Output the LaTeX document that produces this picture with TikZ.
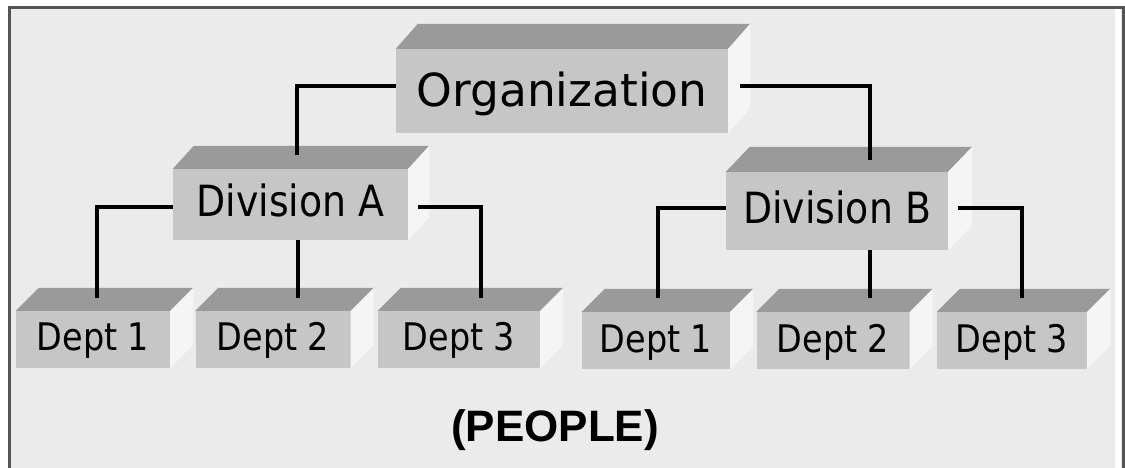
\documentclass[tikz,border=0pt]{standalone}
\usepackage{fontspec}
\newfontfamily\boxfont[FakeStretch=0.88]{DejaVu Sans}
\newfontfamily\orgfont{DejaVu Sans}
\newfontfamily\peoplefont{Liberation Sans}
\definecolor{bgc}{HTML}{EBEBEB}
\definecolor{frontc}{HTML}{C6C6C6}
\definecolor{topc}{HTML}{9A9A9A}
\definecolor{sidec}{HTML}{F5F5F5}
\definecolor{framec}{HTML}{555555}
\newcommand\boxfaces[3]{%
  \fill[topc] (#1.north west) -- ++(#2,-#3) -- ([shift={(#2,-#3)}]#1.north east) -- (#1.north east) -- cycle;
  \fill[sidec] (#1.north east) -- ++(#2,-#3) -- ([shift={(#2,-#3)}]#1.south east) -- (#1.south east) -- cycle;
}
\newcommand\basetext[2]{\raisebox{-#1pt}[0pt][0pt]{#2}}
\begin{document}
\begin{tikzpicture}[x=1pt,y=-1pt,
  boxfront/.style={fill=frontc, inner sep=0pt, text=black},
  orgbox/.style={boxfront, minimum width=332pt, minimum height=84pt, font=\orgfont\fontsize{45.5}{50}\selectfont},
  divbox/.style={boxfront, font=\boxfont\fontsize{43}{48}\selectfont},
  deptbox/.style={boxfront, minimum height=57pt, font=\boxfont\fontsize{38}{42}\selectfont},
  conn/.style={draw=black, line width=3.6pt},
  label/.style={font=\peoplefont\bfseries\fontsize{44}{48}\selectfont, text=black}
]
\useasboundingbox (0,0) rectangle (1125,468);
\fill[white] (0,0) rectangle (1125,468);
\fill[bgc] (8,7) rectangle (1122,468);
\fill[white] (1115,9) rectangle (1121,468);
\draw[framec, line width=3pt] (9.5,468) -- (9.5,7.5) -- (1123.5,7.5) -- (1123.5,468);

% boxes
\node[orgbox] (org) at (562,91) {\basetext{15.5}{Organization}};
\boxfaces{org}{22}{25}
\node[divbox, minimum width=235pt, minimum height=71pt] (divA) at (290.5,204.5) {\basetext{12.2}{Division A}};
\boxfaces{divA}{21}{23}
\node[divbox, minimum width=222pt, minimum height=78pt] (divB) at (837,211) {\basetext{12.7}{Division B}};
\boxfaces{divB}{24}{25}

\node[deptbox, minimum width=154pt] (L1) at (93,339.5) {\basetext{10.5}{Dept 1}};
\boxfaces{L1}{23}{23}
\node[deptbox, minimum width=155pt] (L2) at (273,339.5) {\basetext{10.5}{Dept 2}};
\boxfaces{L2}{23}{23}
\node[deptbox, minimum width=162pt] (L3) at (459,339.5) {\basetext{10.5}{Dept 3}};
\boxfaces{L3}{23}{23}
\node[deptbox, minimum width=148pt] (R1) at (656,340.5) {\basetext{12}{Dept 1}};
\boxfaces{R1}{23}{23}
\node[deptbox, minimum width=153pt] (R2) at (833,340.5) {\basetext{12}{Dept 2}};
\boxfaces{R2}{23}{23}
\node[deptbox, minimum width=150pt] (R3) at (1012,340.5) {\basetext{12}{Dept 3}};
\boxfaces{R3}{23}{23}

\node[label] (people) at (555,430) {(PEOPLE)};

% attachment points on top faces
\coordinate (divAt) at ([xshift=6.5pt,yshift=14pt]divA.north);
\coordinate (divBt) at ([xshift=33pt,yshift=12pt]divB.north);
\coordinate (L1t) at ([xshift=4pt,yshift=13pt]L1.north);
\coordinate (L2t) at ([xshift=25pt,yshift=13pt]L2.north);
\coordinate (L3t) at ([xshift=22pt,yshift=13pt]L3.north);
\coordinate (R1t) at ([xshift=2pt,yshift=14pt]R1.north);
\coordinate (R2t) at ([xshift=37pt,yshift=14pt]R2.north);
\coordinate (R3t) at ([xshift=10pt,yshift=14pt]R3.north);

% connectors
\draw[conn] ([yshift=5pt]org.west) -| (divAt);
\draw[conn] ([xshift=12pt,yshift=5pt]org.east) -| (divBt);
\draw[conn] ([yshift=-2.5pt]divA.west) -| (L1t);
\draw[conn] ([xshift=10pt,yshift=-2.5pt]divA.east) -| (L3t);
\draw[conn] (divA.south -| L2t) -- (L2t);
\draw[conn] ([yshift=3pt]divB.west) -| (R1t);
\draw[conn] ([xshift=10pt,yshift=3pt]divB.east) -| (R3t);
\draw[conn] (divB.south -| R2t) -- (R2t);
\end{tikzpicture}
\end{document}
